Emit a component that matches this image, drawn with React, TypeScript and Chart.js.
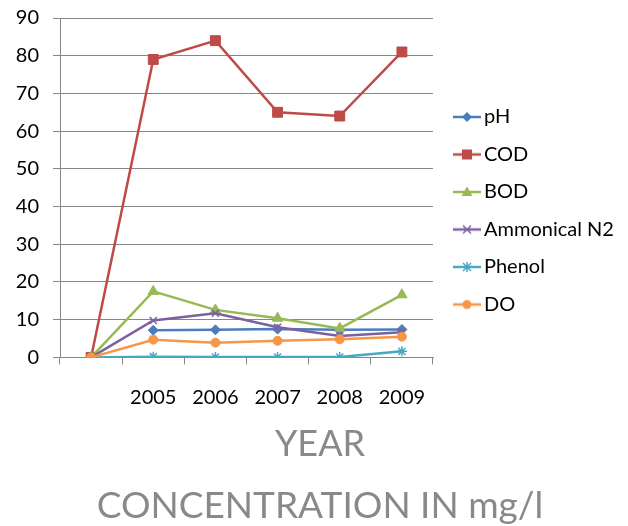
import React, { useEffect, useRef } from "react";
import { Chart, registerables } from "chart.js";

Chart.register(...registerables);

const categories = ["", "2005", "2006", "2007", "2008", "2009"];
const pH = [null, 7.2, 7.3, 7.5, 7.3, 7.4];
const COD = [0, 79, 84, 65, 64, 81];
const BOD = [0, 17.5, 12.6, 10.4, 7.7, 16.6];
const ammonicalN2 = [0, 9.8, 11.7, 8.0, 5.7, 6.7];
const phenol = [0, 0.2, 0.1, 0.1, 0.1, 1.6];
const DO = [0, 4.7, 3.9, 4.4, 4.8, 5.5];
const yTicks = [0, 10, 20, 30, 40, 50, 60, 70, 80, 90];
const seriesNames = ["pH", "COD", "BOD", "Ammonical N2", "Phenol", "DO"];
const seriesColors = ["#4A7EBB", "#BE4B48", "#98B954", "#7D60A0", "#46AAC5", "#F79646"];
const seriesShapes = ["rectRot", "rect", "triangle", "crossRot", "star", "circle"];
const seriesRadius = [5, 7, 6, 5, 5, 4.5];
const xTitle = "YEAR";
const yTitle = "CONCENTRATION IN mg/l";

const FONT = "Lato, 'Open Sans', sans-serif";

function makeIcon(color: string, shape: string): HTMLCanvasElement {
  const c = document.createElement("canvas");
  c.width = 28;
  c.height = 16;
  const ctx = c.getContext("2d")!;
  ctx.strokeStyle = color;
  ctx.fillStyle = color;
  ctx.lineWidth = 2.5;
  ctx.beginPath();
  ctx.moveTo(0, 8);
  ctx.lineTo(28, 8);
  ctx.stroke();
  const cx = 14, cy = 8;
  ctx.lineWidth = 1.5;
  ctx.beginPath();
  if (shape === "rectRot") {
    ctx.moveTo(cx, cy - 5); ctx.lineTo(cx + 5, cy); ctx.lineTo(cx, cy + 5); ctx.lineTo(cx - 5, cy); ctx.closePath(); ctx.fill();
  } else if (shape === "rect") {
    ctx.fillRect(cx - 5, cy - 5, 10, 10);
  } else if (shape === "triangle") {
    ctx.moveTo(cx, cy - 5.5); ctx.lineTo(cx + 5.5, cy + 4); ctx.lineTo(cx - 5.5, cy + 4); ctx.closePath(); ctx.fill();
  } else if (shape === "crossRot") {
    ctx.moveTo(cx - 4, cy - 4); ctx.lineTo(cx + 4, cy + 4); ctx.moveTo(cx + 4, cy - 4); ctx.lineTo(cx - 4, cy + 4); ctx.stroke();
  } else if (shape === "star") {
    ctx.moveTo(cx - 4, cy - 4); ctx.lineTo(cx + 4, cy + 4); ctx.moveTo(cx + 4, cy - 4); ctx.lineTo(cx - 4, cy + 4);
    ctx.moveTo(cx, cy - 5); ctx.lineTo(cx, cy + 5); ctx.stroke();
  } else {
    ctx.arc(cx, cy, 4.5, 0, Math.PI * 2); ctx.fill();
  }
  return c;
}

const sideLegend = {
  id: "sideLegend",
  afterDraw(chart: any) {
    const { ctx, chartArea } = chart;
    ctx.save();
    ctx.font = `20px ${FONT}`;
    ctx.fillStyle = "#000";
    ctx.textBaseline = "middle";
    ctx.textAlign = "left";
    seriesNames.forEach((name, i) => {
      const y = chartArea.top + 99 + i * 37.5;
      const icon = makeIcon(seriesColors[i], seriesShapes[i]);
      ctx.drawImage(icon, chartArea.right + 20, y - 8);
      ctx.fillText(name, chartArea.right + 51, y);
    });
    ctx.restore();
  },
};

export default function App() {
  const ref = useRef<HTMLCanvasElement | null>(null);
  useEffect(() => {
    document.body.style.margin = "0";
    const seriesData = [pH, COD, BOD, ammonicalN2, phenol, DO];
    const datasets = seriesNames.map((name, i) => ({
      label: name,
      data: seriesData[i],
      yAxisID: "y",
      borderColor: seriesColors[i],
      backgroundColor: seriesColors[i],
      pointBackgroundColor: seriesColors[i],
      pointBorderColor: seriesColors[i],
      pointStyle: seriesShapes[i] as any,
      pointRadius: seriesRadius[i],
      pointBorderWidth: seriesShapes[i] === "crossRot" || seriesShapes[i] === "star" ? 1.5 : 1,
      borderWidth: 2.5,
      tension: 0,
      order: seriesNames.length - i,
    }));
    const chart = new Chart(ref.current!, {
      type: "line",
      data: { labels: categories, datasets },
      plugins: [sideLegend],
      options: {
        animation: false,
        responsive: false,
        layout: { padding: { left: 12, top: 18, right: 0, bottom: 0 } },
        plugins: {
          tooltip: { enabled: false },
          legend: { display: false },
          subtitle: {
            display: true,
            position: "bottom",
            text: xTitle,
            color: "#898989",
            font: { family: FONT, size: 36 },
            padding: { top: -8, bottom: 18 },
          },
          title: {
            display: true,
            position: "bottom",
            text: yTitle,
            color: "#898989",
            font: { family: FONT, size: 37, weight: "normal" },
            padding: { top: 0, bottom: -2 },
          },
        },
        scales: {
          x: {
            offset: true,
            grid: {
              display: true,
              drawOnChartArea: false,
              drawTicks: true,
              tickLength: 7,
              color: "#868686",
              offset: true,
            },
            border: { display: true, color: "#868686" },
            ticks: { color: "#000", font: { family: FONT, size: 20 }, padding: 21, maxRotation: 0 },
          },
          y: {
            min: 0,
            max: 90,
            afterBuildTicks: (axis: any) => {
              axis.ticks = yTicks.map((v) => ({ value: v }));
            },
            afterFit: (s: any) => {
              s.width = 48;
              s.paddingTop = 0;
              s.paddingBottom = 0;
            },
            grid: { color: "#868686", tickLength: 7, drawTicks: true },
            border: { display: true, color: "#868686" },
            ticks: { color: "#000", font: { family: FONT, size: 20 }, padding: 14 },
          },
          legendSpace: {
            type: "linear",
            position: "right",
            display: true,
            grid: { display: false, drawTicks: false },
            border: { display: false },
            ticks: { display: false },
            afterFit: (s: any) => {
              s.width = 195;
              s.paddingTop = 0;
              s.paddingBottom = 0;
            },
          },
        },
      },
    });
    return () => chart.destroy();
  }, []);
  return <canvas ref={ref} width={628} height={526} style={{ display: "block" }} />;
}
